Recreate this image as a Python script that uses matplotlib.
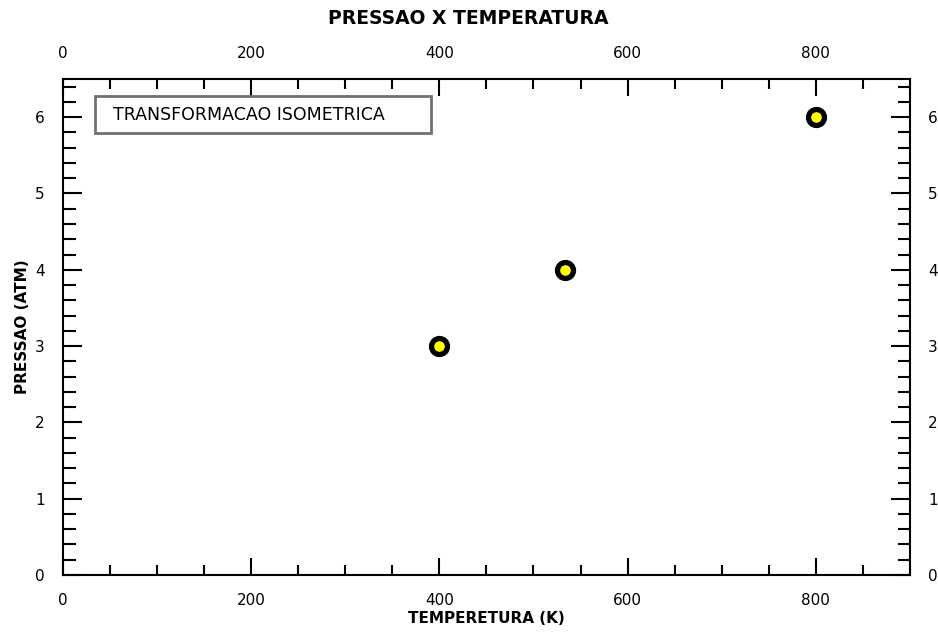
import matplotlib
matplotlib.use("Agg")
import matplotlib.pyplot as plt
from matplotlib.ticker import MultipleLocator
from matplotlib.patches import Rectangle

temperatura = [400, 533, 800]
pressao = [3, 4, 6]
title = "PRESSAO X TEMPERATURA"
xlabel = "TEMPERETURA (K)"
ylabel = "PRESSAO (ATM)"
legend_text = "TRANSFORMACAO ISOMETRICA"

plt.rcParams['font.family'] = ['DejaVu Sans']
fig = plt.figure(figsize=(9.38, 6.33), dpi=100)
ax = fig.add_axes([0.0672, 0.0916, 0.9028, 0.7836])

ax.plot(temperatura, pressao, linestyle='none', marker='o', markersize=11.5,
        markerfacecolor='#ffff00', markeredgecolor='black', markeredgewidth=3.8,
        zorder=5)

ax.set_xlim(0, 900)
ax.set_ylim(0, 6.5)
ax.xaxis.set_major_locator(MultipleLocator(200))
ax.xaxis.set_minor_locator(MultipleLocator(50))
ax.yaxis.set_major_locator(MultipleLocator(1))
ax.yaxis.set_minor_locator(MultipleLocator(0.2))

for s in ax.spines.values():
    s.set_linewidth(1.5)

ax.tick_params(axis='both', which='both', direction='in',
               top=True, bottom=True, left=True, right=True,
               labeltop=True, labelbottom=True, labelleft=True, labelright=True,
               width=1.5, labelsize=11, colors='black')
ax.tick_params(axis='x', which='major', length=12, pad=13)
ax.tick_params(axis='x', which='minor', length=7)
ax.tick_params(axis='y', which='major', length=14, pad=13)
ax.tick_params(axis='y', which='minor', length=9)

fig.text(0.4995, 0.971, title, ha='center', va='center', fontsize=13.5, fontweight='bold')
ax.set_xlabel(xlabel, fontsize=11, fontweight='bold', labelpad=2)
ax.set_ylabel(ylabel, fontsize=11, fontweight='bold', labelpad=4)

# legend-like box
box = Rectangle((95 / 938, 1 - 133 / 633), 336 / 938, 37 / 633, transform=fig.transFigure,
                facecolor='white', edgecolor='#707070', linewidth=2, zorder=6)
fig.patches.append(box)
fig.text(113 / 938, 1 - 115 / 633, legend_text, ha='left', va='center', fontsize=12.5,
         zorder=7)

fig.savefig("out.png", dpi=100)
